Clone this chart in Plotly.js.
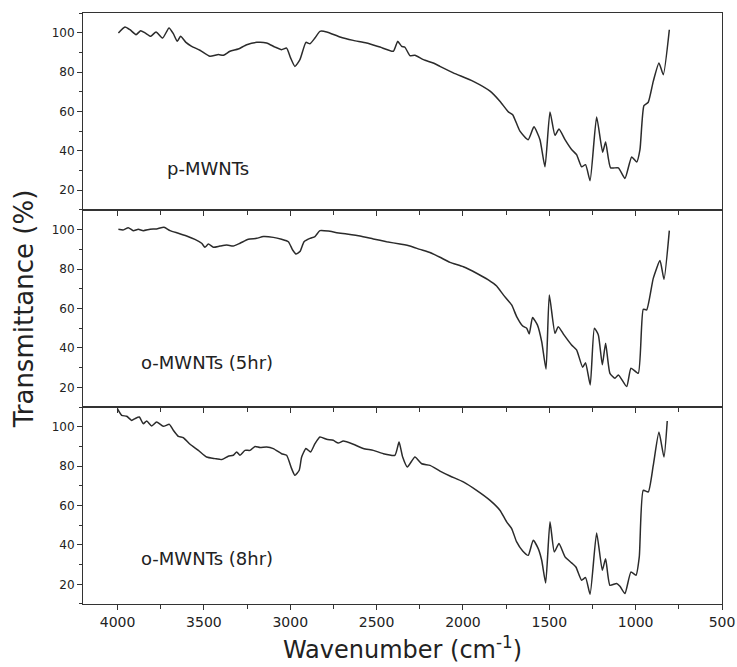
<!DOCTYPE html>
<html>
<head>
<meta charset="utf-8">
<script src="https://cdn.plot.ly/plotly-3.0.1.min.js"></script>
<style>html,body{margin:0;padding:0;background:#fff;}#chart{width:737px;height:667px;}</style>
</head>
<body>
<div id="chart"></div>
<script>
// Wavenumber (cm^-1) and transmittance (%) for each sample
const wnP = [3995,3957,3928,3893,3866,3841,3808,3777,3739,3702,3677,3654,3635,3604,3571,3523,3465,3416,3387,3349,3301,3252,3194,3137,3088,3050,3021,2998,2973,2944,2909,2886,2857,2828,2789,2712,2635,2558,2480,2403,2378,2355,2336,2307,2278,2229,2172,2133,2056,1940,1843,1786,1737,1712,1670,1622,1589,1554,1525,1496,1467,1444,1409,1371,1342,1313,1290,1264,1226,1191,1174,1145,1100,1062,1023,994,975,952,927,898,865,840,805];
const tP = [99.9,102.9,101.5,99,101,99.9,98.2,100.4,97.3,102.4,99.5,95.6,98.2,95.1,93.1,91.1,88,88.9,88.5,90.6,91.7,93.9,95.1,94.8,92.7,91.4,92.2,87.2,82.9,86.3,95.1,94.4,97.3,100.7,100.4,97.8,96.1,94.8,92.7,90.6,95.6,93.1,92.6,88.4,88.5,86.3,84.6,82.9,79.6,75.3,70.3,65.2,59.8,58.4,50,45.7,52.2,45.7,31.9,59.8,47.9,51.1,45.7,40.7,38.1,31.9,33,24.9,57.2,39.3,44.5,31.4,31.4,26,36.9,34.4,40.7,63,64.7,75.3,84.6,78.7,101.5];

const wn5 = [3995,3966,3938,3909,3880,3851,3812,3774,3731,3696,3648,3600,3552,3513,3494,3474,3445,3407,3368,3330,3291,3243,3194,3156,3098,3050,3011,2986,2967,2944,2920,2886,2857,2828,2780,2731,2673,2596,2519,2442,2365,2307,2249,2191,2133,2075,1998,1921,1853,1805,1766,1718,1689,1654,1631,1616,1597,1569,1544,1519,1500,1467,1448,1415,1371,1342,1307,1290,1263,1239,1216,1193,1174,1149,1120,1100,1052,1027,985,956,936,898,859,836,805];
const t5 = [100.2,99.9,101,99.5,100.2,99.5,100.2,100.4,101.2,99.5,98.2,96.8,95.1,93.1,91.1,92.7,91.1,91.7,92.2,91.7,93.1,95.1,95.6,96.5,96.1,95.1,93.9,89.7,87.7,88.9,93.9,95.6,96.5,99.5,99.3,98.5,97.8,96.8,95.3,93.9,92.7,91.7,90,88.4,86,83.4,81.2,77.9,74.5,71.4,66.9,61.8,55.9,51.1,50,47.1,55.4,51.7,43.2,29.2,66.9,47.4,50.8,46.6,41.5,39,30.2,32.5,21.2,50,46.6,31.4,42.4,27.1,24.6,26.3,20.4,29.7,27.1,59.6,59.3,75.3,84.3,74.8,99.5];

const wn8 = [4001,3976,3947,3918,3899,3874,3851,3831,3802,3774,3735,3700,3677,3648,3619,3580,3532,3484,3436,3397,3359,3330,3310,3291,3262,3233,3204,3175,3137,3098,3050,3021,2992,2973,2948,2934,2909,2882,2857,2828,2789,2751,2722,2693,2635,2577,2519,2461,2394,2370,2349,2322,2278,2239,2191,2133,2075,1998,1921,1843,1786,1747,1718,1689,1654,1622,1593,1564,1544,1521,1496,1471,1444,1409,1371,1346,1313,1290,1264,1226,1193,1174,1149,1110,1091,1062,1027,998,979,956,927,898,865,836,817];
const t8 = [109.2,105.8,105.3,103.2,104.1,104.9,101.5,102.9,100.4,102.4,100.2,101.2,98.2,95.1,94.4,91.1,88,84.6,83.8,83.3,85,85.5,87.2,85.5,88,88,90,89.4,89.7,88.9,86.3,85.5,78.7,75.3,77.9,84.6,88.9,87.2,91.4,94.8,93.6,93.1,91.7,92.7,91.1,88.9,88,86.3,85.5,92.2,84.6,79.6,84.6,81.2,80.4,77.5,75,72,67.7,62.6,57.6,51.7,48.3,41.5,36.9,34.7,42.4,38.1,32.2,20.7,51.7,36.4,40.7,33.9,30.9,28.8,22.1,23.4,15,46.1,27.1,33,19.5,20.4,19,15.3,26.3,24.6,33.9,67.7,66.9,80.4,97.3,84.6,102.9];

const sampleLabels = ["p-MWNTs", "o-MWNTs (5hr)", "o-MWNTs (8hr)"];
const xTickVals = [4000,3500,3000,2500,2000,1500,1000,500];
const yTickVals = [20,40,60,80,100];

const lineStyle = {color:"#2b2b2b", width:1.5, shape:"spline", smoothing:0.5};
const traces = [
  {x:wnP, y:tP, xaxis:"x", yaxis:"y3", mode:"lines", line:lineStyle, name:sampleLabels[0]},
  {x:wn5, y:t5, xaxis:"x2", yaxis:"y2", mode:"lines", line:lineStyle, name:sampleLabels[1]},
  {x:wn8, y:t8, xaxis:"x3", yaxis:"y", mode:"lines", line:lineStyle, name:sampleLabels[2]}
];

const FAM = "DejaVu Sans, Verdana, sans-serif";
function xax(anchor, showLabels, extra) {
  return Object.assign({
    anchor: anchor, range:[4200,500], autorange:false,
    tickvals: xTickVals, ticktext: xTickVals.map(String),
    showticklabels: showLabels, ticks:"outside", ticklen:5, tickwidth:1, tickcolor:"#333",
    minor:{dtick:250, tick0:500, ticks:"outside", ticklen:4, tickcolor:"#333", showgrid:false},
    showline:true, linecolor:"#333", linewidth:1, mirror:true,
    showgrid:false, zeroline:false,
    tickfont:{family:FAM, size:14, color:"#222"}
  }, extra||{});
}
function yax(domain, extra) {
  return Object.assign({
    domain: domain, range:[10,110], autorange:false,
    tickvals: yTickVals, ticks:"outside", ticklen:5, tickwidth:1, tickcolor:"#333",
    minor:{dtick:10, tick0:10, ticks:"outside", ticklen:3, tickcolor:"#333", showgrid:false},
    showline:true, linecolor:"#333", linewidth:1, mirror:true,
    showgrid:false, zeroline:false,
    tickfont:{family:FAM, size:12, color:"#222"}
  }, extra||{});
}

const annFont = {family:FAM, size:18, color:"#222"};
const layout = {
  width:737, height:667,
  margin:{l:83, r:15, t:13, b:63},
  paper_bgcolor:"#fff", plot_bgcolor:"#fff",
  showlegend:false,
  font:{family:FAM, color:"#222"},
  xaxis: xax("y3", false),
  xaxis2: xax("y2", false, {matches:"x"}),
  xaxis3: xax("y", true, {matches:"x",
    title:{text:"Wavenumber (cm<sup>-1</sup>)", font:{family:FAM, size:24, color:"#222"}, standoff:12}}),
  yaxis: yax([0, 0.3333], {anchor:"x3"}),
  yaxis2: yax([0.3333, 0.6667], {anchor:"x2",
    title:{text:"Transmittance (%)", font:{family:FAM, size:26, color:"#222"}, standoff:10}}),
  yaxis3: yax([0.6667, 1], {anchor:"x"}),
  annotations: [
    {text:sampleLabels[0], xref:"x", yref:"y3", x:3725, y:31, xanchor:"left", yanchor:"middle", showarrow:false, font:annFont},
    {text:sampleLabels[1], xref:"x2", yref:"y2", x:3876, y:32.5, xanchor:"left", yanchor:"middle", showarrow:false, font:annFont},
    {text:sampleLabels[2], xref:"x3", yref:"y", x:3876, y:33, xanchor:"left", yanchor:"middle", showarrow:false, font:annFont}
  ]
};

Plotly.newPlot("chart", traces, layout, {displayModeBar:false, staticPlot:true});
</script>
</body>
</html>
